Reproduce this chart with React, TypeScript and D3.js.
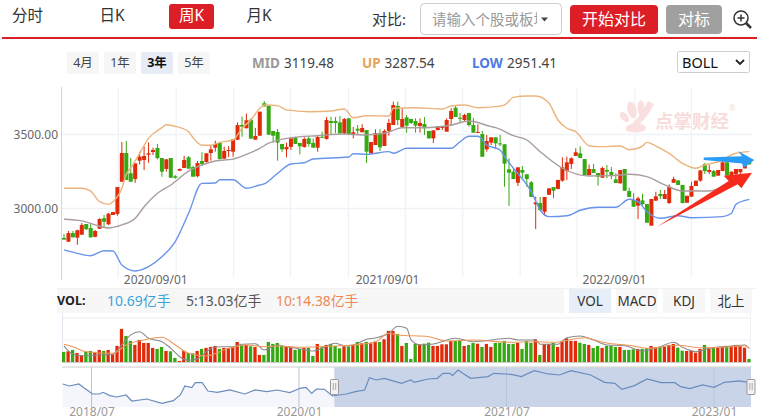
import React, { useEffect, useRef } from "react"
import {
  axisBottom,
  axisLeft,
  curveMonotoneX,
  line,
  area,
  scaleBand,
  scaleLinear,
  select,
} from "d3"

// weekly candles, 155 of them
const opens = [
  2801, 2776, 2834, 2803, 2823, 2895, 2868, 2809, 2863, 2934, 2893, 2956, 2963, 3181, 3375, 3238, 3199, 3323, 3328, 3364,
  3382, 3409, 3341, 3267, 3341, 3218, 3255, 3274, 3346, 3280, 3218, 3321, 3314, 3375, 3411, 3443, 3337, 3389, 3384, 3465,
  3564, 3542, 3600, 3465, 3492, 3711, 3693, 3524, 3517, 3436, 3400, 3416, 3481, 3443, 3416, 3474, 3443, 3411, 3485, 3470,
  3591, 3591, 3582, 3508, 3609, 3503, 3539, 3515, 3530, 3373, 3429, 3510, 3422, 3524, 3564, 3693, 3551, 3616, 3605, 3591,
  3557, 3571, 3524, 3474, 3530, 3544, 3519, 3605, 3681, 3613, 3598, 3645, 3564, 3512, 3503, 3400, 3445, 3481, 3440, 3434,
  3265, 3249, 3174, 3260, 3231, 3177, 3028, 3037, 2978, 3093, 3145, 3132, 3188, 3253, 3301, 3355, 3373, 3334, 3226, 3267,
  3240, 3208, 3260, 3247, 3197, 3170, 3267, 3118, 3057, 3019, 3055, 3030, 2884, 3053, 3098, 3064, 3037, 3174, 3190, 3159,
  3039, 3080, 3152, 3188, 3301, 3247, 3253, 3222, 3253, 3312, 3220, 3233, 3245, 3271, 3328,
]
const closes = [
  2790, 2834, 2805, 2853, 2889, 2859, 2805, 2848, 2929, 2911, 2965, 2976, 3145, 3375, 3193, 3181, 3305, 3350, 3355, 3373,
  3395, 3341, 3249, 3332, 3208, 3208, 3267, 3328, 3269, 3215, 3307, 3301, 3373, 3400, 3436, 3334, 3389, 3395, 3468, 3564,
  3553, 3596, 3472, 3490, 3654, 3690, 3499, 3492, 3445, 3400, 3416, 3474, 3436, 3420, 3470, 3436, 3411, 3483, 3478, 3598,
  3578, 3578, 3508, 3605, 3503, 3515, 3526, 3544, 3384, 3449, 3510, 3413, 3524, 3578, 3699, 3598, 3605, 3560, 3578, 3560,
  3578, 3542, 3474, 3528, 3557, 3557, 3598, 3659, 3618, 3611, 3632, 3564, 3512, 3517, 3350, 3456, 3481, 3440, 3436, 3303,
  3242, 3199, 3278, 3242, 3199, 3078, 3042, 2990, 3078, 3136, 3120, 3193, 3278, 3312, 3339, 3380, 3341, 3226, 3267, 3240,
  3215, 3274, 3249, 3226, 3172, 3260, 3120, 3078, 3012, 3069, 3030, 2904, 3064, 3082, 3084, 3098, 3147, 3199, 3159, 3037,
  3086, 3152, 3188, 3257, 3253, 3260, 3215, 3260, 3312, 3222, 3249, 3267, 3267, 3294, 3298,
]
const highs = [
  2828, 2848, 2848, 2857, 2902, 2895, 2895, 2855, 2934, 2956, 2970, 2976, 3145, 3449, 3456, 3341, 3305, 3384, 3418, 3447,
  3411, 3436, 3341, 3334, 3341, 3226, 3271, 3355, 3355, 3289, 3321, 3380, 3373, 3429, 3458, 3443, 3418, 3422, 3470, 3582,
  3620, 3641, 3609, 3544, 3654, 3726, 3699, 3524, 3537, 3436, 3445, 3474, 3485, 3443, 3481, 3490, 3474, 3490, 3519, 3618,
  3620, 3618, 3625, 3611, 3613, 3551, 3564, 3569, 3530, 3449, 3535, 3535, 3535, 3605, 3722, 3722, 3677, 3632, 3605, 3609,
  3609, 3618, 3524, 3528, 3557, 3557, 3609, 3677, 3699, 3645, 3639, 3645, 3613, 3569, 3524, 3497, 3481, 3481, 3497, 3434,
  3339, 3276, 3278, 3287, 3231, 3186, 3080, 3078, 3078, 3136, 3145, 3193, 3346, 3350, 3346, 3407, 3420, 3334, 3298, 3301,
  3240, 3282, 3294, 3280, 3238, 3260, 3267, 3141, 3103, 3080, 3100, 3030, 3064, 3113, 3125, 3125, 3163, 3215, 3190, 3159,
  3086, 3181, 3188, 3260, 3307, 3294, 3260, 3260, 3321, 3312, 3249, 3267, 3267, 3307, 3334,
]
const lows = [
  2790, 2774, 2805, 2755, 2823, 2859, 2803, 2805, 2863, 2873, 2889, 2956, 2951, 3181, 3193, 3181, 3174, 3298, 3260, 3309,
  3361, 3332, 3215, 3249, 3206, 3201, 3255, 3274, 3269, 3215, 3211, 3289, 3309, 3323, 3384, 3332, 3334, 3348, 3350, 3463,
  3485, 3542, 3472, 3465, 3490, 3688, 3497, 3443, 3323, 3382, 3346, 3395, 3436, 3366, 3411, 3418, 3411, 3384, 3476, 3465,
  3503, 3510, 3508, 3501, 3499, 3474, 3501, 3515, 3307, 3366, 3429, 3389, 3422, 3492, 3564, 3564, 3551, 3512, 3571, 3512,
  3512, 3497, 3472, 3443, 3528, 3530, 3519, 3559, 3618, 3582, 3591, 3553, 3512, 3510, 3350, 3384, 3429, 3402, 3422, 3147,
  3017, 3199, 3152, 3208, 3147, 3078, 2861, 2983, 2951, 3091, 3069, 3130, 3181, 3193, 3267, 3355, 3341, 3224, 3220, 3240,
  3154, 3208, 3206, 3197, 3172, 3168, 3120, 3078, 3012, 2929, 3024, 2904, 2884, 3053, 3064, 3064, 3030, 3174, 3159, 3035,
  3039, 3080, 3152, 3181, 3233, 3233, 3215, 3222, 3253, 3222, 3213, 3220, 3233, 3271, 3298,
]
const volumes = [
  8.3, 8.8, 9.9, 7.5, 5.6, 8.5, 9.1, 8.3, 9.9, 9.1, 9.9, 6.4, 13.1, 26.7, 21.1, 17.1, 13.9, 17.9, 15.5, 15.5,
  11.5, 10.7, 12.3, 9.1, 8.8, 3.5, 1.1, 9.1, 7.5, 7.2, 9.1, 10.7, 11.5, 12.3, 13.1, 10.7, 11.5, 11.5, 12.3, 16.3,
  13.9, 13.9, 12.8, 12.3, 5.9, 5.9, 16.3, 14.7, 15.5, 13.1, 12.3, 12, 9.9, 10.7, 11.5, 11.5, 5.1, 14.7, 12, 13.9,
  14.7, 13.1, 11.2, 12.8, 12.8, 13.9, 16.3, 15.2, 16.3, 15.2, 16.5, 16.3, 18.4, 25.1, 25.1, 22.7, 13.1, 15.5, 2.7, 14.7,
  14.4, 14.9, 15.7, 13.1, 13.1, 14.4, 14.4, 17.1, 17.1, 17.6, 13.1, 13.9, 15.5, 14.9, 12.3, 14.7, 12.3, 15.5, 15.5, 17.1,
  14.7, 14.7, 15.5, 10.7, 17.1, 15.5, 18.4, 5.9, 14.7, 14.7, 15.5, 12.3, 17.1, 19.2, 17.1, 17.1, 15.7, 14.7, 13.9, 11.5,
  13.1, 11.5, 13.1, 13.3, 12.3, 12.3, 9.9, 9.9, 10.4, 10.7, 10.7, 11.2, 13.1, 11.7, 12.3, 12.3, 13.9, 14.7, 11.7, 9.3,
  9.1, 9.1, 7.7, 10.7, 13.9, 10.7, 11.7, 12, 12.5, 12.8, 13.1, 13.9, 13.1, 11.7, 2.7,
]

// boll bands, [candle index, price]
const bollUpper: [number, number][] = [
  [0, 3137], [4, 3137], [6, 3118], [8, 3046], [10, 3028], [11, 3046], [13, 3137], [14, 3231], [15, 3272], [17, 3373],
  [19, 3474], [22, 3546], [23, 3566], [25, 3555], [28, 3519], [29, 3478], [31, 3427], [33, 3427], [35, 3447], [38, 3463],
  [40, 3542], [42, 3598], [44, 3677], [45, 3699], [48, 3695], [50, 3666], [55, 3654], [60, 3659], [63, 3672], [65, 3613],
  [68, 3627], [73, 3625], [74, 3677], [79, 3681], [85, 3672], [87, 3693], [90, 3699], [93, 3681], [97, 3688], [99, 3699],
  [101, 3751], [104, 3760], [106, 3760], [109, 3711], [111, 3598], [113, 3542], [115, 3519], [118, 3424], [120, 3418],
  [125, 3422], [127, 3397], [130, 3422], [131, 3447], [133, 3422], [136, 3373], [139, 3305], [142, 3272], [144, 3294],
  [147, 3316], [151, 3373], [154, 3384],
]
const bollMid: [number, number][] = [
  [0, 2927], [4, 2916], [7, 2889], [10, 2868], [13, 2889], [16, 2934], [18, 3012], [21, 3103], [24, 3159], [28, 3253],
  [31, 3294], [34, 3321], [38, 3334], [41, 3366], [44, 3407], [46, 3441], [51, 3478], [57, 3492], [63, 3503], [67, 3497],
  [72, 3508], [76, 3546], [81, 3546], [87, 3564], [91, 3591], [96, 3553], [97, 3546], [101, 3492], [104, 3463], [107, 3384],
  [112, 3272], [118, 3220], [123, 3222], [127, 3231], [131, 3215], [135, 3159], [139, 3118], [145, 3118], [148, 3145],
  [151, 3186], [154, 3223],
]
const bollLower: [number, number][] = [
  [0, 2720], [3, 2697], [6, 2681], [9, 2715], [11, 2713], [13, 2618], [16, 2578], [19, 2607], [22, 2674], [25, 2776],
  [28, 2968], [31, 3170], [34, 3172], [35, 3194], [38, 3194], [41, 3137], [44, 3159], [45, 3166], [48, 3238], [51, 3301],
  [54, 3309], [56, 3334], [64, 3348], [65, 3370], [68, 3366], [73, 3384], [74, 3373], [77, 3407], [82, 3407], [87, 3407],
  [89, 3451], [91, 3488], [93, 3488], [95, 3429], [98, 3395], [99, 3350], [101, 3272], [105, 3114], [107, 2990], [109, 2945],
  [113, 2951], [116, 2988], [120, 3008], [124, 3008], [127, 3062], [129, 3046], [131, 2978], [134, 2934], [138, 2951],
  [141, 2938], [148, 2945], [150, 2968], [151, 3028], [154, 3062],
]

// volume moving averages, [candle index, volume]
const volMa5: [number, number][] = [
  [0, 13.1], [2, 6.4], [4, 5.3], [8, 5.9], [11, 6.7], [13, 13.9], [15, 21.9], [17, 24.5], [19, 19.2], [22, 16.5],
  [24, 11.2], [26, 4.5], [28, 1.6], [30, 2.7], [32, 8.5], [34, 12.3], [38, 12.5], [40, 14.4], [43, 14.9], [45, 9.9],
  [48, 13.9], [50, 12.5], [53, 10.7], [56, 9.1], [61, 15.2], [63, 13.3], [65, 13.9], [68, 18.4], [70, 19.5], [73, 23.2],
  [75, 28.8], [77, 27.2], [78, 17.9], [80, 13.9], [83, 14.7], [88, 19.2], [92, 16.5], [100, 19.2], [102, 17.9], [106, 17.9],
  [107, 14.4], [111, 14.4], [113, 19.7], [116, 21.1], [119, 17.9], [122, 13.9], [126, 13.3], [130, 9.1], [134, 12.5],
  [137, 16], [139, 12], [142, 8.5], [145, 11.2], [150, 13.1], [153, 13.9], [154, 11.2],
]
const volMa10: [number, number][] = [
  [0, 14.4], [2, 12.5], [5, 8.5], [11, 7.2], [14, 13.9], [18, 17.9], [22, 20], [25, 13.9], [28, 7.2], [32, 5.1],
  [37, 11.2], [41, 13.9], [45, 12.5], [48, 13.1], [53, 12], [61, 13.1], [65, 13.9], [70, 16.5], [73, 23.2], [75, 21.9],
  [82, 20.5], [86, 17.1], [92, 17.9], [100, 16], [106, 16.5], [110, 16], [117, 19.7], [121, 16], [128, 13.1], [131, 11.2],
  [138, 13.6], [143, 11.7], [150, 12.5], [153, 13.3], [154, 11.2],
]

// overview strip, [months since 2018/07, index level]
const overview: [number, number][] = [
  [-2.5, 3090], [-1.9, 3030], [-1.1, 3090], [-0.6, 2960], [0.1, 2790], [0.7, 2790], [1, 2840], [1.6, 2740], [2.2, 2700],
  [3, 2760], [3.5, 2580], [4.8, 2640], [6.1, 2510], [7.1, 2590], [7.7, 2760], [8.1, 3030], [8.7, 2980], [9, 3130], [9.6, 3130],
  [10.1, 2880], [10.9, 2840], [12, 2910], [13.3, 2790], [14.2, 2910], [15.2, 2860], [16.1, 2910], [17.2, 2830], [18.1, 2960],
  [18.6, 2990], [19.1, 2810], [19.5, 2940], [20.2, 2930], [20.9, 2730], [22.1, 2790], [22.9, 2860], [23.7, 2910], [24.1, 3280],
  [24.7, 3210], [25.4, 3260], [26.9, 3110], [27.7, 3210], [28, 3140], [29.2, 3240], [30, 3260], [30.5, 3410], [31.1, 3410],
  [31.3, 3340], [31.8, 3510], [32.2, 3410], [32.9, 3260], [34.4, 3310], [34.9, 3410], [36.4, 3380], [37.3, 3310], [38.4, 3490],
  [39.6, 3390], [40.6, 3360], [41.6, 3490], [43.3, 3360], [44.5, 3140], [45.4, 3110], [46, 2930], [47.1, 3040], [48.2, 3240],
  [49.4, 3130], [50.6, 3130], [51.1, 3010], [51.9, 2950], [53, 3060], [54, 2990], [54.9, 3140], [56.2, 3180], [57.1, 3130],
]

const priceTicks = [3000, 3500]
const gridIndexes = [12.2, 25.2, 38.1, 50.9, 63.9, 76.7, 89.6, 102.5, 115.3, 128.3, 141]
const dateIndexes = [20.5, 72.6, 123.6]
const dateLabels = ["2020/09/01", "2021/09/01", "2022/09/01"]
const overviewMonths = [0, 18, 36, 54]
const overviewLabels = ["2018/07", "2020/01", "2021/07", "2023/01"]
const rangeButtons = ["4月", "1年", "3年", "5年"]
const indicatorTabs = ["VOL", "MACD", "KDJ", "北上"]

const UP = "#e02a0a"
const DOWN = "#35a812"
const FONT = "'Noto Sans', 'Noto Sans CJK SC', sans-serif"

const App = () => {
  const svgRef = useRef<SVGSVGElement>(null)

  useEffect(() => {
    const svg = select(svgRef.current)
    svg.selectAll("*").remove()
    svg.style("font-family", FONT)

    const text = (x: number, y: number, s: string, size: number, fill: string, weight = 400, anchor = "start") =>
      svg
        .append("text")
        .attr("x", x)
        .attr("y", y)
        .attr("dy", "0.35em")
        .attr("font-size", size)
        .attr("font-weight", weight)
        .attr("fill", fill)
        .attr("text-anchor", anchor)
        .text(s)

    const box = (x: number, y: number, w: number, h: number, fill: string, r = 2, stroke = "none") =>
      svg
        .append("rect")
        .attr("x", x)
        .attr("y", y)
        .attr("width", w)
        .attr("height", h)
        .attr("rx", r)
        .attr("fill", fill)
        .attr("stroke", stroke)

    // 1. toolbar
    box(2, 37, 755, 2, "#dc1f27", 0)
    text(27.5, 16, "分时", 15.5, "#333", 400, "middle")
    text(112, 16, "日K", 15.5, "#333", 400, "middle")
    box(169, 4, 45, 25, "#dc1f27", 3)
    text(191.5, 16, "周K", 15.5, "#fff", 400, "middle")
    text(259, 16, "月K", 15.5, "#333", 400, "middle")
    text(372, 20, "对比:", 15, "#333")
    box(420.5, 3.5, 141, 31, "#fff", 4, "#ccc")
    svg
      .append("clipPath")
      .attr("id", "inputClip")
      .append("rect")
      .attr("x", 428)
      .attr("y", 5)
      .attr("width", 109)
      .attr("height", 28)
    text(432, 19.5, "请输入个股或板块", 14.5, "#999").attr("clip-path", "url(#inputClip)")
    svg.append("path").attr("d", "M541 17.5h7l-3.5 4z").attr("fill", "#444")
    box(570, 5, 88, 29, "#dc1f27", 4)
    text(614, 19.5, "开始对比", 16, "#fff", 400, "middle")
    box(666, 5, 56, 29, "#a0a0a0", 4)
    text(694, 19.5, "对标", 16, "#fff", 400, "middle")
    const zoomIcon = svg.append("g").attr("fill", "none").attr("stroke", "#333").attr("stroke-width", 1.5)
    zoomIcon.append("circle").attr("cx", 741).attr("cy", 18).attr("r", 7)
    zoomIcon.append("path").attr("d", "M737.5 18h7M741 14.5v7")
    zoomIcon.append("path").attr("d", "M746 23l5 5").attr("stroke-width", 2.5)

    // 2. range buttons and boll values
    rangeButtons.forEach((label, i) => {
      const x = 67 + i * 37
      box(x, 52, 32, 22, i === 2 ? "#e6ebf5" : "#f6f6f6", 2)
      text(x + 16, 62.5, label, 12.5, i === 2 ? "#111" : "#444", i === 2 ? 700 : 400, "middle")
    })
    text(252, 63, "MID", 13.5, "#999", 700)
    text(284, 63, "3119.48", 13.5, "#444")
    text(362, 63, "UP", 13.5, "#e6a35a", 700)
    text(384.5, 63, "3287.54", 13.5, "#444")
    text(472, 63, "LOW", 13.5, "#4e7be6", 700)
    text(507, 63, "2951.41", 13.5, "#444")
    box(677.5, 51.5, 72, 21, "#fff", 2, "#ccc")
    text(682, 62.5, "BOLL", 14.5, "#111")
    svg
      .append("path")
      .attr("d", "M736 60l4 4 4-4")
      .attr("fill", "none")
      .attr("stroke", "#222")
      .attr("stroke-width", 1.8)

    // 3. scales
    const indexes = opens.map((_, i) => i)
    const xBand = scaleBand<number>().domain(indexes).range([61.775, 751.525]).paddingInner(0.1).paddingOuter(0.05)
    const xIndex = scaleLinear().domain([0, 154]).range([64, 749.3])
    const yPrice = scaleLinear().domain([3000, 3500]).range([208.5, 134.5])
    const yVol = scaleLinear().domain([0, 30]).range([362.3, 324.8])
    const xMonth = scaleLinear().domain([0, 54]).range([91.5, 714])
    const yOverview = scaleLinear().domain([2400, 3590]).range([407, 367.3])

    // 4. main panel grid and watermark
    const gridColor = "#eef1f6"
    svg
      .append("g")
      .selectAll("line")
      .data(gridIndexes)
      .join("line")
      .attr("x1", (d) => xIndex(d))
      .attr("x2", (d) => xIndex(d))
      .attr("y1", 87)
      .attr("y2", 277)
      .attr("stroke", gridColor)
      .attr("stroke-width", 1.2)
    svg
      .append("g")
      .selectAll("line")
      .data(priceTicks)
      .join("line")
      .attr("x1", 62)
      .attr("x2", 752)
      .attr("y1", (d) => yPrice(d))
      .attr("y2", (d) => yPrice(d))
      .attr("stroke", gridColor)
      .attr("stroke-width", 1.5)
    svg.append("line").attr("x1", 61.5).attr("x2", 61.5).attr("y1", 87).attr("y2", 280).attr("stroke", "#c9d6e8")
    svg.append("line").attr("x1", 57).attr("x2", 757).attr("y1", 288.5).attr("y2", 288.5).attr("stroke", "#f2f2f2")

    const paw = svg.append("g").attr("fill", "#f9dfdf")
    paw.append("path").attr("d", "M648 101l6 3c-6 12-14 21-24 28l-5-2c9-7 18-17 23-29z")
    paw.append("ellipse").attr("cx", 632).attr("cy", 110).attr("rx", 4.5).attr("ry", 8.5).attr("transform", "rotate(-15 632 110)")
    paw.append("ellipse").attr("cx", 624.5).attr("cy", 117).attr("rx", 3.5).attr("ry", 6).attr("transform", "rotate(-40 624.5 117)")
    paw.append("ellipse").attr("cx", 641).attr("cy", 108).attr("rx", 3.5).attr("ry", 7.5)
    paw.append("ellipse").attr("cx", 636).attr("cy", 128).attr("rx", 10).attr("ry", 4.5)
    text(655, 122, "点掌财经", 18.5, "#f8dcdc", 700).attr("font-family", "'Noto Sans CJK SC'")
    text(729, 108, "®", 8, "#f8dcdc")

    // 5. candles
    const candles = svg.append("g").selectAll("g").data(indexes).join("g")
    candles
      .append("line")
      .attr("x1", (i) => xIndex(i))
      .attr("x2", (i) => xIndex(i))
      .attr("y1", (i) => yPrice(highs[i]))
      .attr("y2", (i) => yPrice(lows[i]))
      .attr("stroke", (i) => (closes[i] >= opens[i] ? UP : DOWN))
      .attr("stroke-width", 1)
    candles
      .append("rect")
      .attr("x", (i) => (xBand(i) as number))
      .attr("width", xBand.bandwidth())
      .attr("y", (i) => yPrice(Math.max(opens[i], closes[i])))
      .attr("height", (i) => Math.max(1, Math.abs(yPrice(opens[i]) - yPrice(closes[i]))))
      .attr("fill", (i) => (closes[i] >= opens[i] ? UP : DOWN))

    // 6. boll lines
    const bollLine = line<[number, number]>()
      .x((d) => xIndex(d[0]))
      .y((d) => yPrice(d[1]))
      .curve(curveMonotoneX)
    const bands: [[number, number][], string][] = [
      [bollUpper, "#ecb47c"],
      [bollMid, "#a99d9d"],
      [bollLower, "#6a94ea"],
    ]
    bands.forEach(([points, color]) => {
      svg.append("path").attr("d", bollLine(points)).attr("fill", "none").attr("stroke", color).attr("stroke-width", 1.4)
    })

    // 7. drawn arrows
    svg
      .append("path")
      .attr("d", "M703.7 157.6L742 156.2L738 151L754.3 160L743.7 168L742 163.6L703.7 160Z")
      .attr("fill", "#2a9cf5")
    svg
      .append("path")
      .attr("d", "M657 226.7L728.7 181L723.7 175.7L752 172.7L741.3 188.3L737.7 184.3Z")
      .attr("fill", "#f62a1c")

    // 8. axes
    const yAxis = svg
      .append("g")
      .attr("transform", "translate(58,0)")
      .call(axisLeft(yPrice).tickValues(priceTicks).tickSize(0).tickFormat((d) => (d as number).toFixed(2)))
    yAxis.select(".domain").remove()
    yAxis.selectAll("text").attr("font-size", 12).attr("font-family", FONT).attr("fill", "#666").attr("x", 0)

    const xAxis = svg
      .append("g")
      .attr("transform", "translate(0,272.5)")
      .call(
        axisBottom(xIndex)
          .tickValues(dateIndexes)
          .tickSize(0)
          .tickFormat((_, i) => dateLabels[i]),
      )
    xAxis.select(".domain").remove()
    xAxis.selectAll("text").attr("font-size", 12).attr("font-family", FONT).attr("fill", "#666")

    // 9. volume header
    box(57, 289, 507, 24, "#f7f7f7", 0)
    text(57, 301, "VOL:", 12.5, "#222", 700)
    text(107, 301, "10.69亿手", 14, "#3ba5d8")
    text(186, 301, "5:13.03亿手", 14, "#555")
    text(276, 301, "10:14.38亿手", 13.8, "#ee8855")
    indicatorTabs.forEach((label, i) => {
      const x = 569 + i * 47
      box(x, 289, 42, 24, i === 0 ? "#e6eef8" : "#f7f7f7", 0)
      text(x + 21, 301, label, 13.5, "#333", 400, "middle")
    })

    // 10. volume panel
    svg
      .append("g")
      .selectAll("line")
      .data([317.7, 340])
      .join("line")
      .attr("x1", 62)
      .attr("x2", 751)
      .attr("y1", (d) => d)
      .attr("y2", (d) => d)
      .attr("stroke", "#f2f4f8")
      .attr("stroke-width", 1.5)
    svg.append("line").attr("x1", 62.5).attr("x2", 62.5).attr("y1", 313).attr("y2", 362).attr("stroke", "#dfe6f0")
    svg.append("line").attr("x1", 750.5).attr("x2", 750.5).attr("y1", 313).attr("y2", 362).attr("stroke", "#eef1f6")
    svg
      .append("g")
      .selectAll("rect")
      .data(indexes)
      .join("rect")
      .attr("x", (i) => xBand(i) as number)
      .attr("width", 3.3)
      .attr("y", (i) => yVol(volumes[i]))
      .attr("height", (i) => yVol(0) - yVol(volumes[i]))
      .attr("fill", (i) => (closes[i] >= opens[i] ? UP : DOWN))
    const volLine = line<[number, number]>()
      .x((d) => xIndex(d[0]))
      .y((d) => yVol(d[1]))
      .curve(curveMonotoneX)
    svg.append("path").attr("d", volLine(volMa5)).attr("fill", "none").attr("stroke", "#8a8a8a").attr("stroke-width", 1.1)
    svg.append("path").attr("d", volLine(volMa10)).attr("fill", "none").attr("stroke", "#ee9858").attr("stroke-width", 1.1)
    svg.append("line").attr("x1", 62).attr("x2", 751).attr("y1", 362.5).attr("y2", 362.5).attr("stroke", "#ccc")

    // 11. overview strip
    box(62, 367.3, 689, 39.7, "#fff", 0)
    const ovArea = area<[number, number]>()
      .x((d) => xMonth(d[0]))
      .y0(yOverview(2400))
      .y1((d) => yOverview(d[1]))
    const ovLine = line<[number, number]>()
      .x((d) => xMonth(d[0]))
      .y((d) => yOverview(d[1]))
    svg.append("path").attr("d", ovArea(overview)).attr("fill", "#f4f6fc")
    svg.append("rect").attr("x", 334.3).attr("y", 367.3).attr("width", 416.7).attr("height", 39.7).attr("fill", "#c9d4e9")
    svg
      .append("g")
      .selectAll("line")
      .data(overviewMonths)
      .join("line")
      .attr("x1", (d) => xMonth(d))
      .attr("x2", (d) => xMonth(d))
      .attr("y1", 367)
      .attr("y2", 407)
      .attr("stroke", "#b9c3d8")
    svg.append("path").attr("d", ovLine(overview)).attr("fill", "none").attr("stroke", "#6a8cbc").attr("stroke-width", 1.2)
    svg.append("line").attr("x1", 62).attr("x2", 751).attr("y1", 367).attr("y2", 367).attr("stroke", "#ccc")
    ;[334.5, 751].forEach((x) => {
      box(x - 4, 379.5, 8, 15, "#f2f2f2", 1, "#999")
      svg
        .append("path")
        .attr("d", `M${x - 1.2} 383v7M${x + 1.2} 383v7`)
        .attr("stroke", "#999")
        .attr("stroke-width", 0.8)
    })
    const ovAxis = svg
      .append("g")
      .attr("transform", "translate(0,404.5)")
      .call(
        axisBottom(xMonth)
          .tickValues(overviewMonths)
          .tickSize(0)
          .tickFormat((_, i) => overviewLabels[i]),
      )
    ovAxis.select(".domain").remove()
    ovAxis.selectAll("text").attr("font-size", 12).attr("font-family", FONT).attr("fill", "#999")
  }, [])

  return (
    <svg
      ref={svgRef}
      width={757}
      height={417}
      style={{ position: "fixed", left: 0, top: 0, background: "#fff" }}
    />
  )
}

export default App
